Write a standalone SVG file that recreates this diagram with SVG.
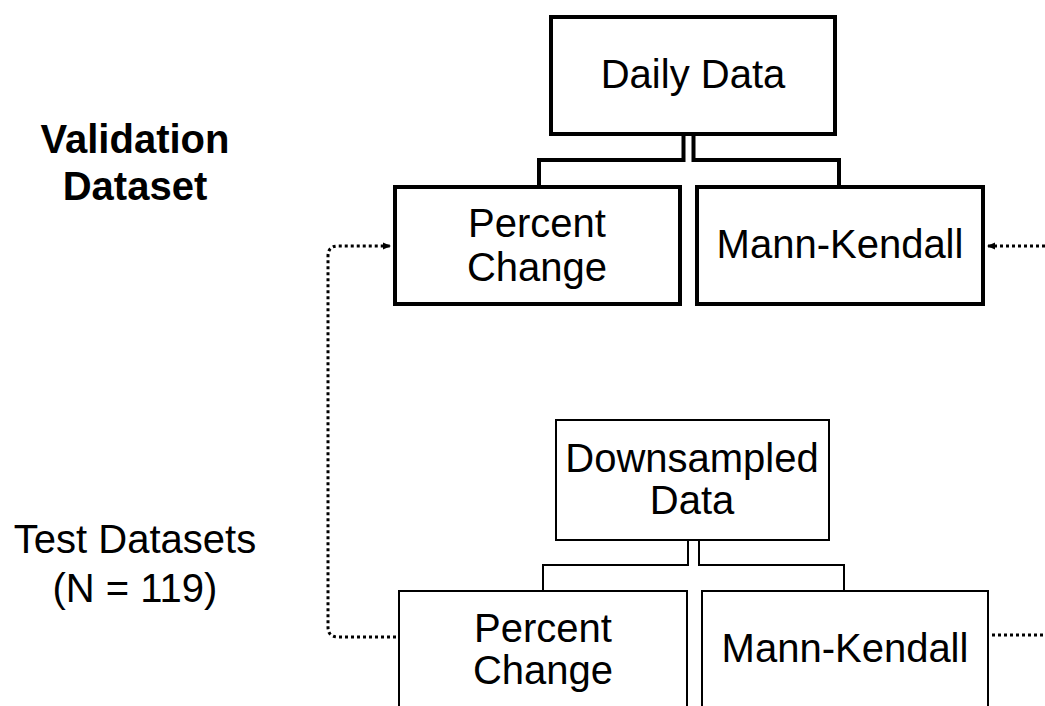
<svg xmlns="http://www.w3.org/2000/svg" width="1045" height="706" viewBox="0 0 1045 706">
<defs>
<style>
text{font-family:"Liberation Sans",Arial,sans-serif;font-size:40px;fill:#000;text-anchor:middle}
.b{font-weight:bold}
.thick{fill:#fff;stroke:#000;stroke-width:4}
.thin{fill:#fff;stroke:#000;stroke-width:2}
.ct{fill:none;stroke:#000;stroke-width:4}
.cn{fill:none;stroke:#000;stroke-width:2}
.dot{fill:none;stroke:#000;stroke-width:3;stroke-dasharray:3 3}
</style>
<marker id="ah" markerWidth="8" markerHeight="8" refX="7" refY="4" orient="auto" markerUnits="userSpaceOnUse">
<path d="M0,0.5 L8,4 L0,7.5 Z" fill="#000"/>
</marker>
</defs>
<rect width="1045" height="706" fill="#fff"/>
<g id="label-validation"><text class="b" x="135" y="153">Validation</text><text class="b" x="135" y="200">Dataset</text></g>
<g id="label-test"><text x="135" y="553">Test Datasets</text><text x="135" y="602">(N = 119)</text></g>
<g id="connectors">
<path class="ct" d="M683.5,135 V160 H539 V185"/>
<path class="ct" d="M693.5,135 V160 H839 V185"/>
<path class="cn" d="M688,540 V565 H543 V591"/>
<path class="cn" d="M699,540 V565 H844 V591"/>
<path class="dot" d="M396,637 H338 Q328,637 328,627 V256 Q328,246 338,246 H390" marker-end="url(#ah)"/>
<path class="dot" d="M1045,246 H988" marker-end="url(#ah)"/>
<path class="dot" d="M992,635 H1045"/>
</g>
<g id="daily"><rect class="thick" x="551" y="17" width="284" height="117"/><text x="693" y="88">Daily Data</text></g>
<g id="pc-top"><rect class="thick" x="395" y="187" width="285" height="117"/><text x="537" y="237">Percent</text><text x="537" y="281">Change</text></g>
<g id="mk-top"><rect class="thick" x="697" y="187" width="286" height="117"/><text x="840" y="258">Mann-Kendall</text></g>
<g id="downsampled"><rect class="thin" x="556" y="420" width="273" height="120"/><text x="692" y="472">Downsampled</text><text x="692" y="514">Data</text></g>
<g id="pc-bottom"><rect class="thin" x="399" y="591" width="288" height="130"/><text x="543" y="642">Percent</text><text x="543" y="684">Change</text></g>
<g id="mk-bottom"><rect class="thin" x="702" y="591" width="286" height="130"/><text x="845" y="662">Mann-Kendall</text></g>
</svg>
